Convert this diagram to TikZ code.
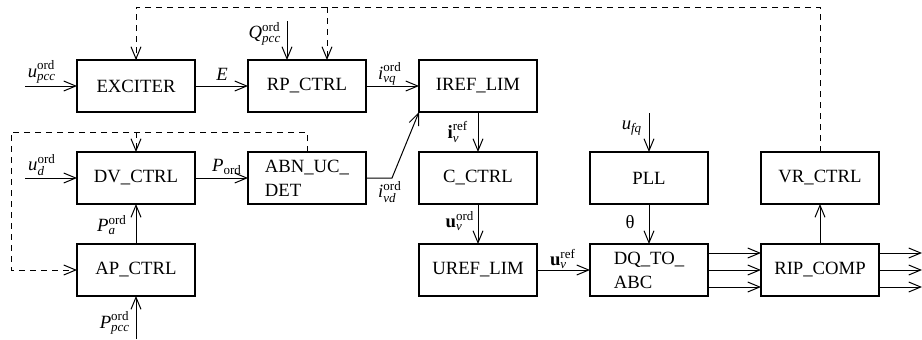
\documentclass[tikz,border=0pt]{standalone}
\usepackage{fontspec}
\setmainfont{Liberation Serif}
\usetikzlibrary{arrows.meta}
\newcommand\boxfont{\fontsize{9.35}{12}\selectfont}
\newcommand\lbsz{\fontsize{6.5}{7}\selectfont}
\newcommand\mlab[3]{$\mbox{#1}^{\mbox{\lbsz #3}}_{\mbox{\lbsz #2}}$}
\begin{document}
\begin{tikzpicture}[x=0.5pt,y=-0.5pt,
 blk/.style={draw,line width=1pt,minimum width=59pt,minimum height=26pt,inner sep=0pt,outer sep=0pt,font=\boxfont},
 con/.style={line width=0.5pt,-{Straight Barb[length=6pt,width=5pt]}},
 dsh/.style={con,dash pattern=on 3pt off 2.5pt},
 dln/.style={line width=0.5pt,dash pattern=on 3pt off 2.5pt},
 lab/.style={inner sep=0pt,font=\boxfont}]
\useasboundingbox (0,0) rectangle (922,339);
\node[blk] (exc) at (136,86) {EXCITER};
\node[blk] (rp) at (307,86) {RP\_CTRL};
\node[blk] (iref) at (478,86) {IREF\_LIM};
\node[blk] (dv) at (136,178) {DV\_CTRL};
\node[blk,align=left] (abn) at (307,178) {ABN\_UC\_\\DET};
\node[blk] (cc) at (478,178) {C\_CTRL};
\node[blk] (pll) at (649,178) {PLL};
\node[blk] (vr) at (820,178) {VR\_CTRL};
\node[blk] (ap) at (136,270) {AP\_CTRL};
\node[blk] (uref) at (478,270) {UREF\_LIM};
\node[blk,align=left] (dq) at (649,270) {DQ\_TO\_\\ABC};
\node[blk] (rip) at (820,270) {RIP\_COMP};
% free ends
\coordinate (upccin) at (25,86);
\coordinate (udin) at (25,178);
\coordinate (qin) at (287,21);
\coordinate (ttop) at (0,7);
\coordinate (rpd) at (327,7);
\coordinate (ltop) at (11,132);
\coordinate (bend) at (392,178);
\coordinate (ppin) at (136,339);
\coordinate (ufq) at (649,113);
\coordinate (out) at (922,270);
% solid connectors
\draw[con] (upccin) -- (exc.west);
\draw[con] (exc) -- (rp);
\draw[con] (qin) -- (qin |- rp.north);
\draw[con] (rp) -- (iref);
\draw[con] (abn.east) -- (bend) -- (iref.south west);
\draw[con] (iref) -- (cc);
\draw[con] (udin) -- (dv.west);
\draw[con] (dv) -- (abn);
\draw[con] (ap) -- (dv);
\draw[con] (ppin) -- (ap.south);
\draw[con] (cc) -- (uref);
\draw[con] (uref) -- (dq);
\draw[con] (ufq) -- (pll.north);
\draw[con] (pll) -- (dq);
\foreach \s in {-8.5pt,0pt,8.5pt}{
  \draw[con] ([yshift=\s]dq.east) -- ([yshift=\s]rip.west);
  \draw[con] ([yshift=\s]rip.east) -- ([yshift=\s]out);
}
\draw[con] (rip) -- (vr);
% dashed feedback
\draw[dsh] (vr.north) -- (vr.north |- ttop) -| (exc.north);
\draw[dsh] (rpd) -- (rpd |- rp.north);
\draw[dsh] (abn.north) -- (abn.north |- ltop) -- (ltop) |- (ap.west);
\draw[dsh] (dv.north |- ltop) -- (dv.north);
% labels
\node[lab] (l1) at (42,72) {\mlab{\itshape u}{\itshape pcc}{ord}};
\node[lab] (l2) at (222,74) {\itshape E};
\node[lab] (l3) at (265,34) {\mlab{\itshape Q}{\itshape pcc}{ord}};
\node[lab] (l4) at (390,74) {\mlab{\itshape i}{\itshape vq}{ord}};
\node[lab] (l5) at (390,192) {\mlab{\itshape i}{\itshape vd}{ord}};
\node[lab] (l6) at (458,132) {\mlab{\bfseries i}{\itshape v}{ref}};
\node[lab] (l7) at (42,165) {\mlab{\itshape u}{\itshape d}{ord}};
\node[lab] (l8) at (227,167) {$\mbox{\itshape P}_{\mbox{\lbsz ord}}$};
\node[lab] (l9) at (112,225) {\mlab{\itshape P}{\itshape a}{ord}};
\node[lab] (l10) at (115,323) {\mlab{\itshape P}{\itshape pcc}{ord}};
\node[lab] (l11) at (460,221) {\mlab{\bfseries u}{\itshape v}{ord}};
\node[lab] (l12) at (563,259) {\mlab{\bfseries u}{\itshape v}{ref}};
\node[lab] (l13) at (632,128) {$\mbox{\itshape u}_{\mbox{\lbsz\itshape fq}}$};
\node[lab] (l14) at (630,222) {θ};
\end{tikzpicture}
\end{document}
